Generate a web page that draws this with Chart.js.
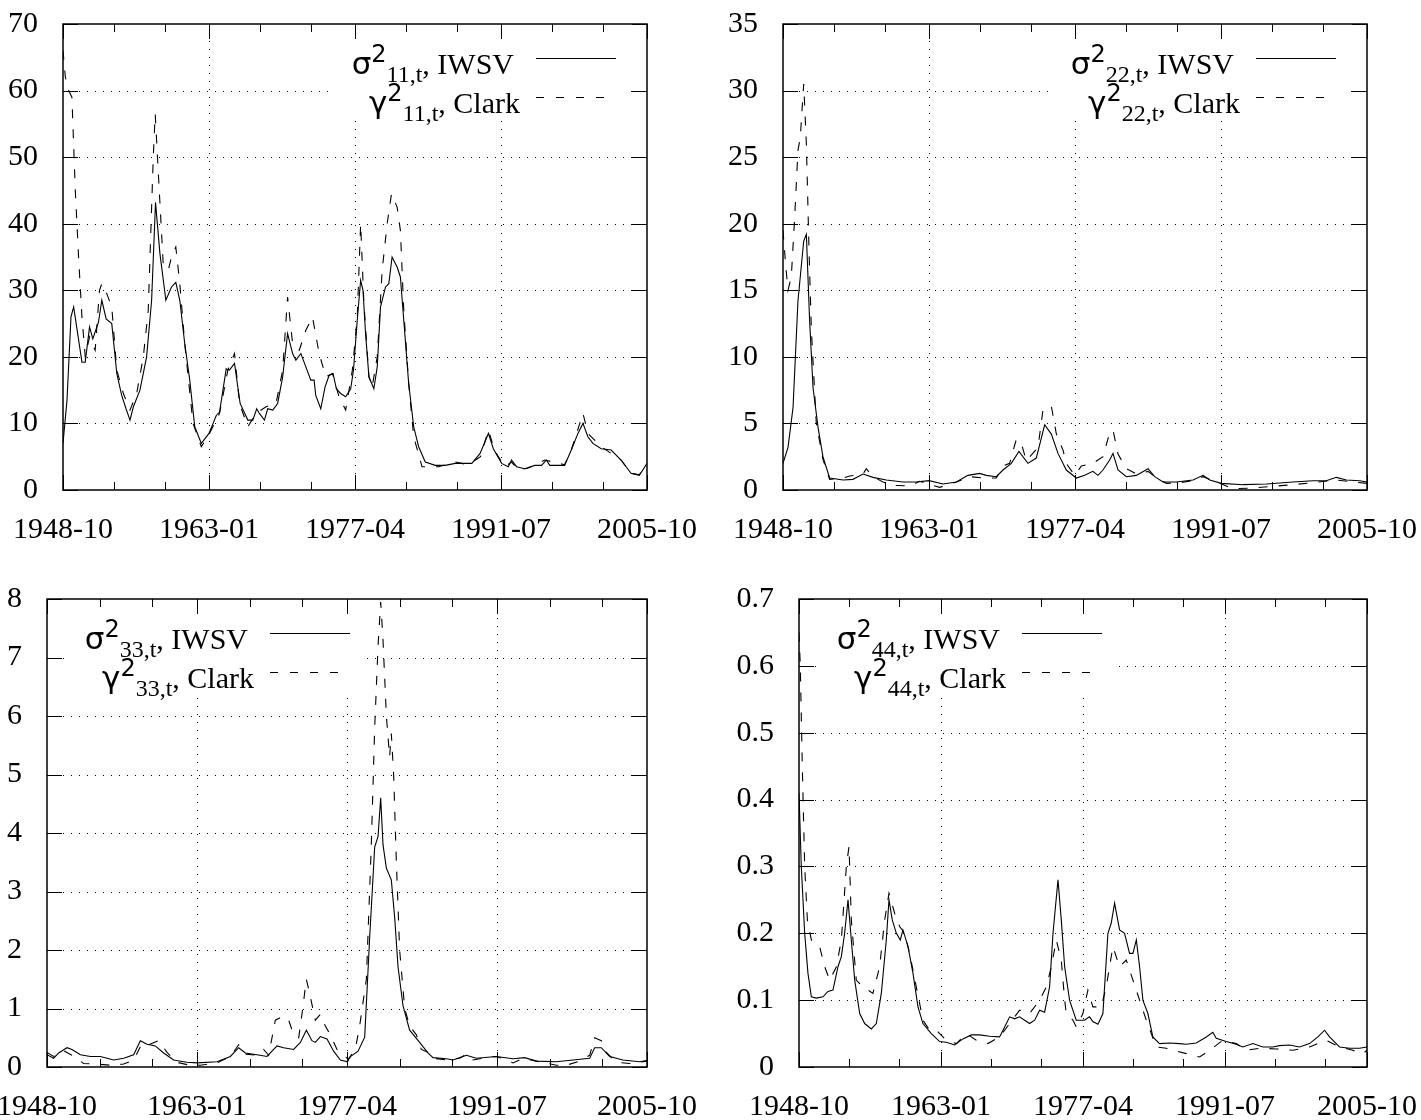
<!DOCTYPE html>
<html>
<head>
<meta charset="utf-8">
<script src="https://cdn.jsdelivr.net/npm/chart.js@4.4.1/dist/chart.umd.min.js"></script>
<style>
  html, body { margin: 0; padding: 0; background: #fff; }
  body { width: 1421px; height: 1120px; position: relative; overflow: hidden; }
  canvas { position: absolute; }
</style>
</head>
<body>
<canvas id="c11" width="710" height="560" style="left:0px;top:0px;width:710px;height:560px"></canvas>
<canvas id="c22" width="711" height="560" style="left:710px;top:0px;width:711px;height:560px"></canvas>
<canvas id="c33" width="710" height="560" style="left:0px;top:560px;width:710px;height:560px"></canvas>
<canvas id="c44" width="711" height="560" style="left:710px;top:560px;width:711px;height:560px"></canvas>
<script>
// ---------------- DATA ----------------
const xMajorValues = [1948.75, 1963.0, 1977.25, 1991.5, 2005.75];
const xMajorLabels = ['1948-10', '1963-01', '1977-04', '1991-07', '2005-10'];
const xMinorValues = [1953.75, 1958.75, 1968.0, 1973.0, 1982.25, 1987.25, 1996.5, 2001.5];

const yTicks11 = [0, 10, 20, 30, 40, 50, 60, 70];
const yLabels11 = ['0', '10', '20', '30', '40', '50', '60', '70'];
const yTicks22 = [0, 5, 10, 15, 20, 25, 30, 35];
const yLabels22 = ['0', '5', '10', '15', '20', '25', '30', '35'];
const yTicks33 = [0, 1, 2, 3, 4, 5, 6, 7, 8];
const yLabels33 = ['0', '1', '2', '3', '4', '5', '6', '7', '8'];
const yTicks44 = [0, 0.1, 0.2, 0.3, 0.4, 0.5, 0.6, 0.7];
const yLabels44 = ['0', '0.1', '0.2', '0.3', '0.4', '0.5', '0.6', '0.7'];

// [year, value] pairs
const iwsv11 = [[1948.75,7],[1949.14,13.5],[1949.53,26],[1949.79,27.5],[1950.6,19.2],[1950.92,19.2],[1951.34,24.5],[1951.66,22.7],[1952.21,25.2],[1952.54,28.5],[1952.96,25.7],[1953.51,25],[1954.0,17.5],[1954.48,14.2],[1954.9,12.2],[1955.29,10.5],[1955.62,12.5],[1956.26,15],[1956.91,20],[1957.4,28.5],[1957.78,43.2],[1958.21,35.5],[1958.79,28.5],[1959.34,30.5],[1959.76,31.2],[1960.15,28.5],[1960.63,22],[1961.12,16.5],[1961.61,9.5],[1962.25,7],[1963.0,8.5],[1963.71,11.2],[1964.03,11.7],[1964.68,18.2],[1965.0,18],[1965.49,19],[1966.04,13],[1966.79,10.5],[1967.27,10.5],[1967.66,12.2],[1967.92,11.5],[1968.41,10.5],[1968.73,12.2],[1969.22,12],[1969.7,13],[1970.19,17],[1970.67,23.5],[1971.16,20.5],[1971.48,19.5],[1971.97,20.5],[1972.45,18.5],[1972.94,16.5],[1973.26,16.5],[1973.42,14.2],[1973.91,12.2],[1974.33,15.5],[1974.72,17.2],[1975.11,17.5],[1975.43,15.2],[1975.85,14.5],[1976.34,14],[1976.83,15.2],[1977.1,18],[1977.47,25.5],[1977.8,31.5],[1978.03,30],[1978.28,23.5],[1978.61,17],[1979.09,15.2],[1979.42,18.5],[1979.74,27.5],[1980.23,30.5],[1980.55,31],[1980.87,35],[1981.36,33.5],[1981.68,32],[1982.01,25.5],[1982.49,16],[1982.98,9.5],[1983.46,6.5],[1984.11,4.2],[1985.08,3.7],[1986.06,3.7],[1987.03,4],[1987.67,4],[1988.65,4],[1989.46,5.5],[1990.27,8.5],[1990.75,6.2],[1991.56,4],[1992.21,3.5],[1992.53,4.5],[1993.02,3.5],[1993.83,3.2],[1994.8,3.7],[1995.45,3.7],[1995.93,4.5],[1996.26,3.7],[1997.71,3.7],[1998.36,6],[1999.01,8.5],[1999.5,10],[1999.98,8],[2000.47,7],[2001.28,6.2],[2002.25,6],[2003.22,4.5],[2004.19,2.5],[2005.0,2.2],[2005.42,3.2],[2005.75,4]];
const clark11 = [[1948.75,66],[1948.98,62],[1949.3,60],[1949.62,59],[1949.95,45],[1950.27,35],[1950.6,26],[1950.92,20],[1951.34,23],[1951.89,21],[1952.31,30],[1952.54,31],[1953.02,29.5],[1953.51,27.5],[1954.0,18],[1954.64,14.5],[1955.29,12],[1955.94,14.5],[1956.59,20],[1957.07,27],[1957.56,50],[1957.75,56.5],[1958.04,48],[1958.53,34],[1959.02,33],[1959.34,35],[1959.76,36.5],[1960.15,31],[1960.63,22],[1961.44,10],[1962.25,6.5],[1963.06,8.5],[1964.03,11.5],[1964.84,18],[1965.49,20.5],[1965.98,13],[1966.79,9.5],[1967.6,11.5],[1968.57,12.5],[1969.54,13],[1970.19,18],[1970.67,29],[1971.16,22],[1971.81,21],[1972.45,24],[1973.1,26],[1973.75,20.5],[1974.4,17],[1975.05,17.5],[1975.69,14],[1976.34,12],[1976.99,18],[1977.47,26],[1977.8,40],[1978.12,28],[1978.61,17],[1978.93,15.5],[1979.42,20],[1979.9,33],[1980.39,40],[1980.81,44.5],[1981.36,42.5],[1981.68,39],[1982.01,27],[1982.49,16],[1982.98,8],[1983.79,3.5],[1985.41,3.5],[1987.03,4.2],[1988.32,3.8],[1989.5,5],[1990.27,9],[1990.91,5.8],[1991.88,3.5],[1992.53,4.2],[1993.18,3.0],[1994.15,3.3],[1995.77,4.5],[1997.71,3.8],[1998.36,6],[1999.5,11.5],[1999.98,8.5],[2001.28,6.5],[2003.22,4.5],[2004.19,2.5],[2005.0,2.3],[2005.75,4]];

const iwsv22 = [[1948.75,2.0],[1949.24,3.2],[1949.73,6.2],[1950.21,14.2],[1950.77,18.7],[1951.03,19.2],[1951.35,12.7],[1951.68,7.7],[1952.17,4.7],[1952.65,2.5],[1953.3,0.9],[1954.61,0.75],[1955.58,0.8],[1956.56,1.2],[1957.53,0.95],[1958.83,0.75],[1960.46,0.6],[1961.76,0.6],[1963.0,0.7],[1964.37,0.45],[1965.67,0.6],[1966.8,1.1],[1967.94,1.25],[1968.59,1.1],[1969.57,1.0],[1970.22,1.5],[1971.03,2.0],[1971.78,2.9],[1972.66,2.0],[1973.47,2.4],[1974.29,4.9],[1974.94,4.2],[1975.59,2.75],[1976.24,1.75],[1976.4,1.5],[1977.38,0.9],[1978.19,1.1],[1979.0,1.4],[1979.49,1.1],[1979.98,1.5],[1980.63,2.25],[1980.96,2.75],[1981.45,1.5],[1982.26,1.0],[1983.24,1.1],[1984.38,1.6],[1985.03,1.0],[1985.84,0.6],[1987.14,0.6],[1988.77,0.75],[1989.75,1.1],[1990.4,0.75],[1991.54,0.5],[1993.65,0.4],[1995.93,0.45],[1998.53,0.6],[2000.48,0.7],[2001.78,0.7],[2002.76,0.95],[2003.73,0.75],[2005.03,0.7],[2005.75,0.6]];
const clark22 = [[1948.75,19.5],[1949.0,17],[1949.24,15],[1949.56,16],[1949.89,20.5],[1950.21,25.5],[1950.44,26.5],[1950.77,30.5],[1951.03,26],[1951.29,18],[1951.52,12],[1952.0,5],[1952.65,2.3],[1953.3,0.8],[1954.61,0.9],[1955.26,1.05],[1956.56,1.2],[1956.88,1.6],[1957.53,1.0],[1958.51,0.6],[1959.49,0.35],[1961.11,0.3],[1962.09,0.65],[1964.04,0.2],[1965.67,0.6],[1966.97,1.0],[1968.27,0.9],[1969.57,0.9],[1970.22,1.8],[1970.87,2.0],[1971.52,3.8],[1972.01,3.5],[1972.5,2.2],[1973.64,3.2],[1974.12,6.0],[1974.94,6.3],[1975.43,4.2],[1976.08,3.0],[1976.4,2.0],[1977.22,1.1],[1977.87,1.8],[1979.0,2.0],[1979.98,2.5],[1980.63,4.3],[1980.96,4.5],[1981.45,2.7],[1982.26,1.6],[1983.24,1.2],[1984.38,1.4],[1985.19,0.9],[1986.17,0.5],[1987.47,0.55],[1988.77,0.7],[1989.75,1.0],[1990.72,0.7],[1992.67,0.1],[1994.63,0.15],[1996.9,0.3],[1998.53,0.4],[2000.48,0.55],[2002.76,0.75],[2004.38,0.6],[2005.75,0.5]];

const iwsv33 = [[1948.75,0.21],[1949.38,0.15],[1949.86,0.24],[1950.65,0.33],[1951.12,0.30],[1951.92,0.21],[1952.87,0.18],[1953.82,0.18],[1955.08,0.12],[1956.03,0.15],[1956.98,0.21],[1957.62,0.45],[1958.25,0.39],[1959.04,0.36],[1959.83,0.24],[1960.78,0.12],[1962.05,0.08],[1963.0,0.07],[1964.9,0.09],[1966.17,0.18],[1966.96,0.33],[1967.6,0.24],[1968.7,0.21],[1969.65,0.18],[1970.6,0.36],[1971.23,0.33],[1972.18,0.30],[1972.82,0.42],[1973.39,0.63],[1973.92,0.45],[1974.24,0.42],[1974.72,0.52],[1975.35,0.48],[1975.98,0.27],[1976.62,0.12],[1977.31,0.09],[1977.5,0.17],[1978.3,0.27],[1978.93,0.51],[1979.4,2.2],[1979.88,3.76],[1980.2,3.94],[1980.45,4.6],[1980.67,3.8],[1980.99,3.4],[1981.46,3.2],[1981.78,2.55],[1982.1,1.71],[1982.57,1.05],[1983.2,0.63],[1984.15,0.42],[1984.94,0.24],[1985.42,0.16],[1986.69,0.14],[1987.32,0.12],[1988.59,0.2],[1989.54,0.15],[1991.44,0.18],[1993.02,0.14],[1994.13,0.16],[1995.24,0.10],[1997.14,0.09],[1998.72,0.12],[2000.3,0.15],[2000.78,0.33],[2001.41,0.33],[2002.2,0.18],[2003.47,0.12],[2005.05,0.09],[2005.75,0.11]];
const clark33 = [[1948.75,0.25],[1949.38,0.18],[1950.33,0.28],[1951.12,0.2],[1951.76,0.12],[1952.23,0.06],[1953.5,0.05],[1954.77,0.03],[1956.03,0.05],[1956.98,0.12],[1957.77,0.4],[1958.41,0.38],[1959.36,0.45],[1960.15,0.25],[1961.1,0.08],[1962.05,0.04],[1963.32,0.03],[1964.9,0.07],[1966.17,0.18],[1966.96,0.38],[1967.6,0.22],[1968.7,0.2],[1969.33,0.3],[1969.81,0.2],[1970.44,0.8],[1971.23,0.87],[1971.71,0.8],[1972.18,0.55],[1972.66,0.5],[1972.97,0.9],[1973.39,1.5],[1973.77,1.2],[1974.24,0.8],[1974.72,0.9],[1975.19,0.7],[1975.67,0.55],[1976.3,0.3],[1977.25,0.15],[1977.5,0.15],[1978.14,0.4],[1978.45,0.7],[1979.09,1.5],[1979.56,3.8],[1979.88,5.8],[1980.2,7.2],[1980.45,7.95],[1980.67,7.3],[1980.99,6.0],[1981.3,5.3],[1981.46,5.7],[1981.68,5.0],[1981.94,3.5],[1982.25,2.0],[1982.73,1.0],[1983.2,0.7],[1983.84,0.55],[1984.31,0.3],[1984.94,0.25],[1985.42,0.15],[1986.69,0.12],[1987.95,0.15],[1988.59,0.22],[1989.22,0.12],[1990.8,0.17],[1991.44,0.18],[1992.39,0.12],[1993.02,0.07],[1993.97,0.15],[1995.24,0.1],[1997.14,0.03],[1998.09,0.03],[1999.35,0.1],[2000.3,0.2],[2000.78,0.5],[2001.41,0.45],[2001.89,0.25],[2002.84,0.08],[2004.1,0.06],[2005.75,0.1]];

const iwsv44 = [[1948.75,0.41],[1948.98,0.3],[1949.32,0.2],[1949.65,0.14],[1949.99,0.105],[1950.49,0.103],[1951.16,0.105],[1951.66,0.113],[1952.16,0.115],[1952.66,0.15],[1953.0,0.165],[1953.33,0.2],[1953.67,0.25],[1954.0,0.19],[1954.34,0.13],[1954.84,0.08],[1955.34,0.065],[1956.01,0.057],[1956.51,0.065],[1957.01,0.11],[1957.51,0.19],[1957.78,0.25],[1958.11,0.22],[1958.52,0.2],[1958.92,0.19],[1959.18,0.205],[1959.69,0.18],[1960.19,0.14],[1960.69,0.09],[1961.19,0.065],[1962.03,0.05],[1962.86,0.038],[1963.53,0.037],[1964.37,0.033],[1965.2,0.042],[1966.04,0.048],[1966.88,0.048],[1967.88,0.046],[1968.88,0.045],[1969.39,0.06],[1969.89,0.075],[1970.39,0.072],[1970.89,0.075],[1971.39,0.07],[1971.89,0.065],[1972.4,0.07],[1972.9,0.085],[1973.4,0.082],[1973.9,0.12],[1974.24,0.2],[1974.74,0.28],[1975.07,0.22],[1975.41,0.15],[1975.9,0.1],[1976.57,0.07],[1977.4,0.07],[1977.9,0.075],[1978.24,0.068],[1978.75,0.064],[1979.25,0.08],[1979.75,0.2],[1980.08,0.215],[1980.42,0.245],[1980.92,0.205],[1981.42,0.2],[1981.92,0.17],[1982.26,0.17],[1982.6,0.19],[1982.93,0.15],[1983.26,0.1],[1983.76,0.08],[1984.26,0.045],[1984.93,0.035],[1985.94,0.036],[1986.94,0.035],[1987.61,0.034],[1988.61,0.036],[1989.62,0.045],[1990.28,0.052],[1990.62,0.043],[1991.62,0.038],[1992.63,0.034],[1993.29,0.03],[1994.3,0.035],[1995.3,0.03],[1996.3,0.03],[1996.97,0.032],[1997.98,0.033],[1998.98,0.03],[1999.98,0.035],[2000.82,0.045],[2001.49,0.055],[2001.99,0.045],[2002.99,0.03],[2004.0,0.028],[2005.0,0.028],[2005.75,0.03]];
const clark44 = [[1948.75,0.65],[1948.88,0.6],[1949.08,0.45],[1949.32,0.3],[1949.59,0.22],[1949.99,0.19],[1950.82,0.18],[1951.33,0.15],[1951.83,0.13],[1952.5,0.15],[1953.0,0.19],[1953.5,0.3],[1953.77,0.33],[1954.0,0.22],[1954.5,0.13],[1955.17,0.12],[1956.17,0.11],[1956.84,0.15],[1957.35,0.22],[1957.78,0.26],[1958.35,0.23],[1958.85,0.21],[1959.35,0.2],[1959.85,0.17],[1960.52,0.12],[1961.19,0.07],[1961.86,0.055],[1962.53,0.055],[1963.53,0.04],[1964.54,0.035],[1965.54,0.05],[1966.54,0.04],[1967.71,0.035],[1968.88,0.045],[1969.89,0.065],[1970.89,0.085],[1971.89,0.08],[1972.9,0.1],[1973.57,0.12],[1974.07,0.15],[1974.57,0.19],[1975.07,0.16],[1975.41,0.1],[1975.57,0.08],[1976.24,0.07],[1976.57,0.06],[1977.24,0.08],[1977.74,0.115],[1978.24,0.09],[1979.08,0.09],[1979.58,0.12],[1980.25,0.18],[1980.92,0.15],[1981.59,0.16],[1982.26,0.13],[1982.93,0.1],[1983.6,0.07],[1984.6,0.03],[1985.6,0.028],[1987.61,0.02],[1988.95,0.015],[1989.95,0.025],[1991.29,0.04],[1992.63,0.035],[1993.63,0.025],[1994.97,0.028],[1996.64,0.027],[1998.31,0.025],[1999.98,0.03],[2001.66,0.04],[2002.99,0.03],[2004.33,0.025],[2005.34,0.02],[2005.75,0.025]];

// ---------------- STYLE ----------------
const SERIF = '"Liberation Serif", "Times New Roman", serif';
const SANS = '"DejaVu Sans", "Noto Sans", sans-serif';
const TICK_FONT_SIZE = 30;

function legendRows(idx) {
  return [
    { glyph: '\u03C3', sub: idx + ',t', tail: ', IWSV', dash: [] },
    { glyph: '\u03B3', sub: idx + ',t', tail: ', Clark', dash: [8, 12] }
  ];
}

function rowParts(r) {
  return [
    { t: r.glyph, font: '31px ' + SANS, dy: 0 },
    { t: '2', font: '24px ' + SANS, dy: -12 },
    { t: r.sub, font: '24px ' + SERIF, dy: 8 },
    { t: r.tail, font: '30px ' + SERIF, dy: 0 }
  ];
}

function legendGeometry(chart) {
  const a = chart.chartArea;
  const g = chart.options.plugins.gnuframe;
  const x0 = g.legendSide === 'right' ? a.right - 111 : a.left + 223;
  const x1 = x0 + 80;
  const ys = [a.top + 34, a.top + 73];
  const ctx = chart.ctx;
  const rows = legendRows(g.idx);
  let minStart = Infinity;
  const layout = rows.map((r, i) => {
    const parts = rowParts(r);
    let w = 0;
    parts.forEach(p => { ctx.font = p.font; p.w = ctx.measureText(p.t).width; w += p.w; });
    const xr = x0 - (i === 0 ? 22 : 16);
    minStart = Math.min(minStart, xr - w);
    return { parts, xr, w, y: ys[i], dash: r.dash };
  });
  return { x0, x1, layout, box: { l: minStart - 18, r: x1 + 15, t: ys[0] - 30, b: ys[1] + 21 } };
}

const gnuFrame = {
  id: 'gnuframe',
  beforeDatasetsDraw(chart) {
    const ctx = chart.ctx, a = chart.chartArea;
    const g = chart.options.plugins.gnuframe;
    const L = legendGeometry(chart);
    const xs = chart.scales.x, ys = chart.scales.y;
    ctx.save();
    ctx.beginPath();
    ctx.rect(a.left, a.top, a.right - a.left, a.bottom - a.top);
    ctx.rect(L.box.l, L.box.t, L.box.r - L.box.l, L.box.b - L.box.t);
    ctx.clip('evenodd');
    ctx.strokeStyle = '#000';
    ctx.lineWidth = 1;
    ctx.setLineDash([1, 7]);
    g.yTicks.slice(1, -1).forEach(v => {
      const y = Math.round(ys.getPixelForValue(v)) + 0.5;
      ctx.beginPath(); ctx.moveTo(a.left, y); ctx.lineTo(a.right, y); ctx.stroke();
    });
    xMajorValues.slice(1, -1).forEach(v => {
      const x = Math.round(xs.getPixelForValue(v)) + 0.5;
      ctx.beginPath(); ctx.moveTo(x, a.bottom); ctx.lineTo(x, a.top); ctx.stroke();
    });
    ctx.restore();
  },
  afterDatasetsDraw(chart) {
    const ctx = chart.ctx, a = chart.chartArea;
    const g = chart.options.plugins.gnuframe;
    const xs = chart.scales.x, ys = chart.scales.y;
    ctx.save();
    ctx.strokeStyle = '#000';
    ctx.setLineDash([]);
    ctx.lineWidth = 1;
    const seg = (x1, y1, x2, y2) => { ctx.beginPath(); ctx.moveTo(x1, y1); ctx.lineTo(x2, y2); ctx.stroke(); };
    g.yTicks.forEach(v => {
      const y = Math.round(ys.getPixelForValue(v)) + 0.5;
      seg(a.left, y, a.left + 15, y);
      seg(a.right - 15, y, a.right, y);
    });
    xMajorValues.forEach(v => {
      const x = Math.round(xs.getPixelForValue(v)) + 0.5;
      seg(x, a.bottom, x, a.bottom - 15);
      seg(x, a.top, x, a.top + 15);
    });
    xMinorValues.forEach(v => {
      const x = Math.round(xs.getPixelForValue(v)) + 0.5;
      seg(x, a.bottom, x, a.bottom - 8);
      seg(x, a.top, x, a.top + 8);
    });
    ctx.lineWidth = 1.5;
    ctx.strokeRect(a.left, a.top, a.right - a.left, a.bottom - a.top);

    // legend
    const L = legendGeometry(chart);
    ctx.fillStyle = '#000';
    ctx.textBaseline = 'alphabetic';
    ctx.textAlign = 'left';
    L.layout.forEach(row => {
      let x = row.xr - row.w;
      row.parts.forEach(p => {
        ctx.font = p.font;
        ctx.fillText(p.t, x, row.y + 16 + p.dy);
        x += p.w;
      });
      ctx.lineWidth = 1;
      ctx.setLineDash(row.dash);
      const y = Math.round(row.y) + 0.5;
      seg(L.x0, y, L.x1, y);
    });
    ctx.restore();
  }
};

function makeChart(id, iwsv, clark, yTicks, yLabels, idx, geom, legendSide) {
  const ctx = document.getElementById(id).getContext('2d');
  return new Chart(ctx, {
    type: 'line',
    data: {
      datasets: [
        { label: 'IWSV', data: iwsv.map(p => ({ x: p[0], y: p[1] })), borderColor: '#000', borderWidth: 1.1, pointRadius: 0, tension: 0, fill: false },
        { label: 'Clark', data: clark.map(p => ({ x: p[0], y: p[1] })), borderColor: '#000', borderWidth: 1.1, borderDash: [9, 11], pointRadius: 0, tension: 0, fill: false }
      ]
    },
    options: {
      responsive: false,
      animation: false,
      devicePixelRatio: 1,
      events: [],
      layout: { padding: { top: geom.top, right: geom.right, left: 0, bottom: 0 } },
      plugins: {
        legend: { display: false },
        tooltip: { enabled: false },
        gnuframe: { yTicks: yTicks, idx: idx, legendSide: legendSide }
      },
      scales: {
        x: {
          type: 'linear',
          min: xMajorValues[0],
          max: xMajorValues[xMajorValues.length - 1],
          grid: { display: false },
          border: { display: false },
          afterBuildTicks: s => { s.ticks = xMajorValues.map(v => ({ value: v })); },
          afterFit: s => { s.height = geom.xh; s.paddingLeft = 0; s.paddingRight = 0; },
          ticks: {
            autoSkip: false, maxRotation: 0, minRotation: 0, padding: 14,
            color: '#000',
            font: { family: SERIF, size: TICK_FONT_SIZE },
            callback: (v, i) => xMajorLabels[i]
          }
        },
        y: {
          type: 'linear',
          min: yTicks[0],
          max: yTicks[yTicks.length - 1],
          grid: { display: false },
          border: { display: false },
          afterBuildTicks: s => { s.ticks = yTicks.map(v => ({ value: v })); },
          afterFit: s => { s.width = geom.yw; s.paddingTop = 0; s.paddingBottom = 0; },
          ticks: {
            padding: 17,
            color: '#000',
            font: { family: SERIF, size: TICK_FONT_SIZE },
            callback: (v, i) => yLabels[i]
          }
        }
      }
    },
    plugins: [gnuFrame]
  });
}

makeChart('c11', iwsv11, clark11, yTicks11, yLabels11, '11', { yw: 63, top: 24, right: 63, xh: 70 }, 'right');
makeChart('c22', iwsv22, clark22, yTicks22, yLabels22, '22', { yw: 73, top: 24, right: 54, xh: 70 }, 'right');
makeChart('c33', iwsv33, clark33, yTicks33, yLabels33, '33', { yw: 47, top: 39, right: 63, xh: 53 }, 'left');
makeChart('c44', iwsv44, clark44, yTicks44, yLabels44, '44', { yw: 89, top: 39, right: 54, xh: 53 }, 'left');
</script>
</body>
</html>
